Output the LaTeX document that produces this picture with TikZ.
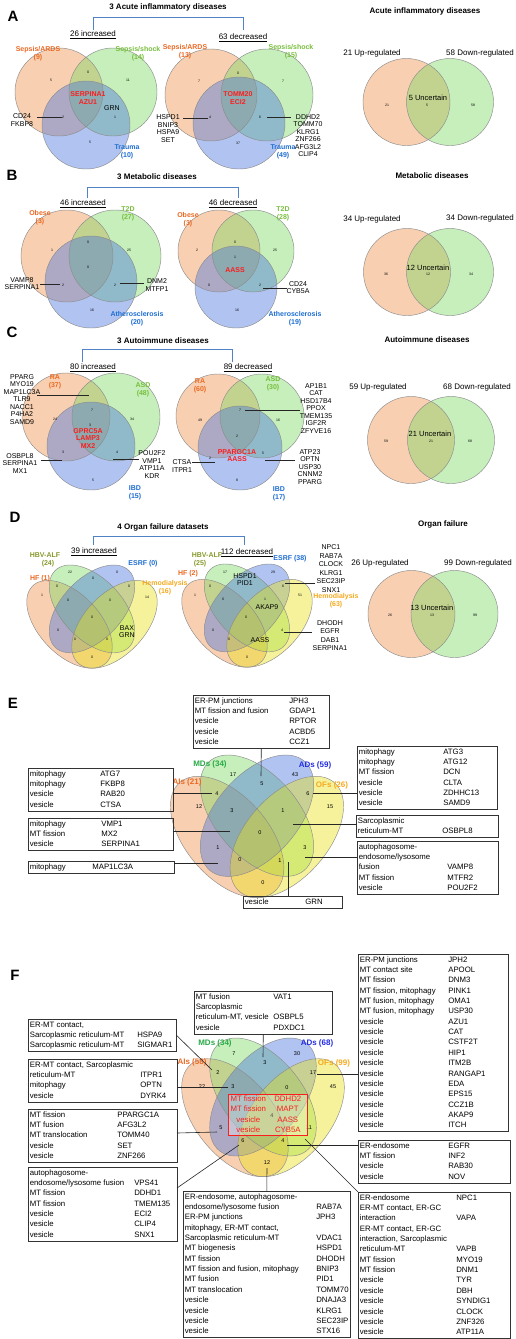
\documentclass[tikz,border=0pt]{standalone}
\usepackage{fontspec}
\setmainfont{Liberation Sans}
\usepackage{array}
\newcolumntype{L}[1]{>{\raggedright\arraybackslash}p{#1}}
\newcolumntype{C}[1]{>{\centering\arraybackslash}p{#1}}
\definecolor{vOr}{RGB}{240,145,70}
\definecolor{vGr}{RGB}{120,217,97}
\definecolor{vBl}{RGB}{70,115,222}
\definecolor{vYe}{RGB}{235,225,20}
\definecolor{tOr}{RGB}{235,105,35}
\definecolor{tGr}{RGB}{120,190,60}
\definecolor{tBl}{RGB}{30,110,210}
\definecolor{tHe}{RGB}{245,170,30}
\definecolor{tOl}{RGB}{135,155,45}
\definecolor{tRed}{RGB}{250,30,30}
\definecolor{brk}{RGB}{80,130,200}
\definecolor{eGr}{RGB}{40,170,70}
\definecolor{eBl}{RGB}{35,45,230}
\tikzset{
 vline/.style={draw=black!45, line width=0.45pt},
 num/.style={font=\fontsize{3.5}{4}\selectfont, inner sep=0pt},
 enum/.style={font=\fontsize{5.5}{6}\selectfont, inner sep=0pt},
 vlab/.style={font=\bfseries\fontsize{7}{8}\selectfont, inner sep=0pt, align=center},
 elab/.style={font=\bfseries\fontsize{8}{9}\selectfont, inner sep=0pt},
 glist/.style={font=\fontsize{7}{7.5}\selectfont, inner sep=0pt, align=center},
 redl/.style={font=\bfseries\fontsize{7}{7.6}\selectfont, text=tRed, inner sep=0pt, align=center},
 ttl/.style={font=\bfseries\fontsize{8}{9}\selectfont, inner sep=0pt},
 sub/.style={font=\fontsize{8}{9}\selectfont, inner sep=0pt},
 unc/.style={font=\fontsize{7.5}{8}\selectfont, inner sep=0pt},
 plet/.style={font=\bfseries\fontsize{15}{15}\selectfont, inner sep=0pt},
 conn/.style={draw=black!85, line width=0.6pt},
 brkl/.style={draw=brk, line width=0.8pt},
 gbox/.style={draw=black!80, line width=0.6pt, inner xsep=1.5pt, inner ysep=0.6pt, font=\fontsize{7.8}{10.35}\selectfont, anchor=north west},
}
\newcommand\gtab[3]{\begin{tabular}{@{}L{#1pt}@{}L{#2pt}@{}}#3\end{tabular}}
\newcommand\tvenn[5]{%
  \fill[vOr,fill opacity=.42] ({#1-#4},#2) circle (#3);
  \fill[vGr,fill opacity=.42] ({#1+#4},#2) circle (#3);
  \fill[vBl,fill opacity=.42] (#1,{#2+#5}) circle (#3);
  \draw[vline] ({#1-#4},#2) circle (#3);
  \draw[vline] ({#1+#4},#2) circle (#3);
  \draw[vline] (#1,{#2+#5}) circle (#3);
}
\newcommand\dvenn[5]{%
  \fill[vOr,fill opacity=.42] (#1,#3) circle (#4);
  \fill[vGr,fill opacity=.42] (#2,#3) circle (#4);
  \draw[vline] (#1,#3) circle (#4);
  \draw[vline] (#2,#3) circle (#4);
}
\newcommand\qvenn[4]{%
 \begin{scope}[shift={(#1,#2)},xscale=#3,yscale=#4]
  \fill[vOr,fill opacity=.42,rotate around={-45:(-0.15,0.385)}] (-0.15,0.385) ellipse [x radius=0.35,y radius=0.2];
  \fill[vGr,fill opacity=.42,rotate around={-45:(0,0.285)}] (0,0.285) ellipse [x radius=0.35,y radius=0.2];
  \fill[vBl,fill opacity=.42,rotate around={45:(0,0.285)}] (0,0.285) ellipse [x radius=0.35,y radius=0.2];
  \fill[vYe,fill opacity=.42,rotate around={45:(0.15,0.385)}] (0.15,0.385) ellipse [x radius=0.35,y radius=0.2];
  \draw[vline,rotate around={-45:(-0.15,0.385)}] (-0.15,0.385) ellipse [x radius=0.35,y radius=0.2];
  \draw[vline,rotate around={-45:(0,0.285)}] (0,0.285) ellipse [x radius=0.35,y radius=0.2];
  \draw[vline,rotate around={45:(0,0.285)}] (0,0.285) ellipse [x radius=0.35,y radius=0.2];
  \draw[vline,rotate around={45:(0.15,0.385)}] (0.15,0.385) ellipse [x radius=0.35,y radius=0.2];
 \end{scope}}
\begin{document}
\begin{tikzpicture}[x=1pt,y=-1pt]
\fill[white] (0,0) rectangle (515,1339);
\useasboundingbox (0,0) rectangle (515,1339);
%================ A
\node[plet] (pA) at (13,16) {A};
\node[ttl] (tA) at (168,7) {3 Acute inflammatory diseases};
\coordinate (bA1) at (93,30); \coordinate (bA2) at (243,30);
\draw[brkl] (bA1) -- ++(0,-13) -| (bA2);
\node[sub] (iA) at (93,35) {\underline{26 increased}};
\node[sub] (dA) at (243,38) {\underline{63 decreased}};
\tvenn{86}{92}{44}{27}{33}
\node[vlab,text=tOr] (aS1) at (38,54) {Sepsis/ARDS\\(9)};
\node[vlab,text=tGr] (aS2) at (138,54) {Sepsis/shock\\(14)};
\node[vlab,text=tBl] (aS3) at (127,152) {Trauma\\(10)};
\node[num] (an1) at (51,80) {5};
\node[num] (an2) at (88,72) {0};
\node[num] (an3) at (128,80) {11};
\node[num] (an4) at (63,117) {2};
\node[num] (an5) at (115,117) {1};
\node[num] (an6) at (90,142) {5};
\node[redl] (aR1) at (88,98) {SERPINA1\\AZU1};
\node[glist] (aG1) at (112,108) {GRN};
\node[glist] (aL1) at (22,120) {CD24\\FKBP8};
\coordinate (aL1a) at (37,117); \coordinate (aL1b) at (62,117);
\draw[conn] (aL1a) -- (aL1b);
\tvenn{239}{95}{46}{28}{28}
\node[vlab,text=tOr] (aS4) at (185,52) {Sepsis/ARDS\\(13)};
\node[vlab,text=tGr] (aS5) at (291,52) {Sepsis/shock\\(15)};
\node[vlab,text=tBl] (aS6) at (283,152) {Trauma\\(49)};
\node[num] (an7) at (199,81) {7};
\node[num] (an8) at (238,73) {0};
\node[num] (an9) at (283,81) {7};
\node[num] (an10) at (210,117) {4};
\node[num] (an11) at (260,117) {6};
\node[num] (an12) at (238,143) {37};
\node[redl] (aR2) at (238,98) {TOMM20\\ECI2};
\node[glist] (aL2) at (168,128.5) {HSPD1\\BNIP3\\HSPA9\\SET};
\coordinate (aL2a) at (183,118); \coordinate (aL2b) at (208,118);
\draw[conn] (aL2a) -- (aL2b);
\node[glist] (aL3) at (308,135.5) {DDHD2\\TOMM70\\KLRG1\\ZNF266\\AFG3L2\\CLIP4};
\coordinate (aL3a) at (267,117); \coordinate (aL3b) at (291,117);
\draw[conn] (aL3a) -- (aL3b);
% right A
\node[ttl] (tA2) at (425,11) {Acute inflammatory diseases};
\node[sub] (uA) at (372,53) {21 Up-regulated};
\node[sub] (wA) at (480,53) {58 Down-regulated};
\dvenn{406.5}{450}{102}{43.5}{}
\node[unc] (cA) at (428,98) {5 Uncertain};
\node[num] (rn1) at (387,105) {21};
\node[num] (rn2) at (427,105) {5};
\node[num] (rn3) at (473,105) {58};
%================ B
\node[plet] (pB) at (12,175) {B};
\node[ttl] (tB) at (157,177) {3 Metabolic diseases};
\coordinate (bB1) at (87,198); \coordinate (bB2) at (238,198);
\draw[brkl] (bB1) -- ++(0,-11) -| (bB2);
\node[sub] (iB) at (83,204) {\underline{46 increased}};
\node[sub] (dB) at (233,204) {\underline{46 decreased}};
\tvenn{91}{256}{46}{24}{26}
\node[vlab,text=tOr] (bS1) at (40,218) {Obese\\(3)};
\node[vlab,text=tGr] (bS2) at (128,214) {T2D\\(27)};
\node[vlab,text=tBl] (bS3) at (137,319) {Atherosclerosis\\(20)};
\node[num] (bn1) at (52,250) {1};
\node[num] (bn2) at (88,242) {0};
\node[num] (bn3) at (129,250) {25};
\node[num] (bn4) at (88,267) {0};
\node[num] (bn5) at (63,285) {2};
\node[num] (bn6) at (115,285) {2};
\node[num] (bn7) at (92,310) {16};
\node[glist] (bL1) at (22,283.5) {VAMP8\\SERPINA1};
\coordinate (bL1a) at (40,284); \coordinate (bL1b) at (60,284);
\draw[conn] (bL1a) -- (bL1b);
\node[glist] (bL2) at (157,285) {DNM2\\MTFP1};
\coordinate (bL2a) at (120,283); \coordinate (bL2b) at (144,283);
\draw[conn] (bL2a) -- (bL2b);
\tvenn{236}{251}{41}{17}{36}
\node[vlab,text=tOr] (bS4) at (188,220) {Obese\\(3)};
\node[vlab,text=tGr] (bS5) at (283,214) {T2D\\(28)};
\node[vlab,text=tBl] (bS6) at (295,319) {Atherosclerosis\\(19)};
\node[num] (bn8) at (197,250) {2};
\node[num] (bn9) at (235,242) {0};
\node[num] (bn10) at (275,250) {25};
\node[num] (bn11) at (235,257) {1};
\node[num] (bn12) at (209,285) {0};
\node[num] (bn13) at (260,285) {2};
\node[num] (bn14) at (237,310) {16};
\node[redl] (bR1) at (235,270) {AASS};
\node[glist] (bL3) at (298,287.5) {CD24\\CYB5A};
\coordinate (bL3a) at (263,288); \coordinate (bL3b) at (287,288);
\draw[conn] (bL3a) -- (bL3b);
\node[ttl] (tB2) at (432,176) {Metabolic diseases};
\node[sub] (uB) at (372,219) {34 Up-regulated};
\node[sub] (wB) at (480,218) {34 Down-regulated};
\dvenn{407}{450}{272}{43.5}{}
\node[unc] (cB) at (428,268) {12 Uncertain};
\node[num] (rn4) at (386,274) {36};
\node[num] (rn5) at (428,274) {12};
\node[num] (rn6) at (471,274) {34};
%================ C
\node[plet] (pC) at (12,332) {C};
\node[ttl] (tC) at (163,341) {3 Autoimmune diseases};
\coordinate (bC1) at (82,362); \coordinate (bC2) at (232,362);
\draw[brkl] (bC1) -- ++(0,-13) -| (bC2);
\node[sub] (iC) at (93,368) {\underline{80 increased}};
\node[sub] (dC) at (248,368) {\underline{89 decreased}};
\tvenn{91}{417}{44}{25}{29}
\node[vlab,text=tOr] (cS1) at (55,382) {RA\\(37)};
\node[vlab,text=tGr] (cS2) at (143,390) {ASD\\(48)};
\node[vlab,text=tBl] (cS3) at (135,493) {IBD\\(15)};
\node[num] (cn1) at (55,419) {24};
\node[num] (cn2) at (92,410) {7};
\node[num] (cn3) at (132,419) {34};
\node[num] (cn4) at (90,425) {3};
\node[num] (cn5) at (63,452) {3};
\node[num] (cn6) at (117,452) {4};
\node[num] (cn7) at (93,480) {5};
\node[redl] (cR1) at (88,438.5) {GPRC5A\\LAMP3\\MX2};
\node[glist] (cL1) at (22,399.5) {PPARG\\MYO19\\MAP1LC3A\\TLR9\\NACC1\\P4HA2\\SAMD9};
\coordinate (cL1a) at (37,395); \coordinate (cL1b) at (89,395);
\draw[conn] (cL1a) -- (cL1b);
\node[glist] (cL2) at (20,463.5) {OSBPL8\\SERPINA1\\MX1};
\coordinate (cL2a) at (41,460); \coordinate (cL2b) at (62,460);
\draw[conn] (cL2a) -- (cL2b);
\node[glist] (cL3) at (152,464.5) {POU2F2\\VMP1\\ATP11A\\KDR};
\coordinate (cL3a) at (113,459); \coordinate (cL3b) at (139,459);
\draw[conn] (cL3a) -- (cL3b);
\tvenn{240}{416}{42}{22}{32}
\node[vlab,text=tOr] (cS4) at (200,386) {RA\\(60)};
\node[vlab,text=tGr] (cS5) at (273,384) {ASD\\(30)};
\node[vlab,text=tBl] (cS6) at (279,494) {IBD\\(17)};
\node[num] (cn8) at (200,420) {49};
\node[num] (cn9) at (240,410) {7};
\node[num] (cn10) at (278,420) {16};
\node[num] (cn11) at (237,436) {2};
\node[num] (cn12) at (210,458) {2};
\node[num] (cn13) at (263,453) {5};
\node[num] (cn14) at (237,480) {8};
\node[redl] (cR2) at (237,455.5) {PPARGC1A\\AASS};
\node[glist] (cL4) at (316,408.5) {AP1B1\\CAT\\HSD17B4\\PPOX\\TMEM135\\IGF2R\\ZFYVE16};
\coordinate (cL4a) at (245,410); \coordinate (cL4b) at (300,410);
\draw[conn] (cL4a) -- (cL4b);
\node[glist] (cL5) at (182,466) {CTSA\\ITPR1};
\coordinate (cL5a) at (192,462); \coordinate (cL5b) at (215,462);
\draw[conn] (cL5a) -- (cL5b);
\node[glist] (cL6) at (310,467) {ATP23\\OPTN\\USP30\\CNNM2\\PPARG};
\coordinate (cL6a) at (265,460); \coordinate (cL6b) at (295,460);
\draw[conn] (cL6a) -- (cL6b);
\node[ttl] (tC2) at (427,340) {Autoimmune diseases};
\node[sub] (uC) at (378,387) {59 Up-regulated};
\node[sub] (wC) at (477,387) {68 Down-regulated};
\dvenn{411}{451}{440}{43.5}{}
\node[unc] (cC) at (430,434) {21 Uncertain};
\node[num] (rn7) at (386,441) {59};
\node[num] (rn8) at (431,441) {21};
\node[num] (rn9) at (470,441) {68};
%================ D
\node[plet] (pD) at (15,517) {D};
\node[ttl] (tD) at (163,527) {4 Organ failure datasets};
\coordinate (bD1) at (93,545); \coordinate (bD2) at (244,545);
\draw[brkl] (bD1) -- ++(0,-9) -| (bD2);
\node[sub] (iD) at (94,552) {\underline{39 increased}};
\node[sub] (dD) at (247,553) {\underline{112 decreased}};
\qvenn{92}{565}{150}{154}
\node[vlab,text=tOl] (dS1) at (45,555) {HBV-ALF};
\node[vlab,text=tOl] (dS1b) at (48,564) {(24)};
\node[vlab,text=tBl] (dS2) at (143,564) {ESRF (0)};
\node[vlab,text=tOr] (dS3) at (40,579) {HF (1)};
\node[vlab,text=tHe] (dS4) at (165,587.5) {Hemodialysis\\(16)};
\node[num] (dn1) at (70,572) {22};
\node[num] (dn2) at (117,572) {0};
\node[num] (dn3) at (93,578) {0};
\node[num] (dn4) at (57,586) {0};
\node[num] (dn5) at (129,586) {0};
\node[num] (dn6) at (42,595) {1};
\node[num] (dn7) at (147,597) {14};
\node[num] (dn8) at (68,600) {0};
\node[num] (dn9) at (110,600) {0};
\node[num] (dn10) at (92,617) {0};
\node[num] (dn11) at (58,630) {0};
\node[num] (dn12) at (75,639) {0};
\node[num] (dn13) at (107,639) {0};
\node[num] (dn14) at (92,657) {0};
\node[glist] (dG1) at (127,631.5) {BAX\\GRN};
\qvenn{247}{564}{150}{154}
\node[vlab,text=tOl] (dS5) at (207,555) {HBV-ALF};
\node[vlab,text=tOl] (dS5b) at (200,564) {(25)};
\node[vlab,text=tBl] (dS6) at (290,559) {ESRF (38)};
\node[vlab,text=tOr] (dS7) at (188,574) {HF (2)};
\node[vlab,text=tHe] (dS8) at (336,601) {Hemodialysis\\(63)};
\node[num] (dn15) at (225,572) {17};
\node[num] (dn16) at (273,572) {29};
\node[num] (dn17) at (210,586) {0};
\node[num] (dn18) at (283,586) {6};
\node[num] (dn19) at (195,595) {1};
\node[num] (dn20) at (300,595) {51};
\node[num] (dn21) at (223,599) {0};
\node[num] (dn22) at (265,599) {1};
\node[num] (dn23) at (246,617) {0};
\node[num] (dn24) at (213,630) {0};
\node[num] (dn25) at (282,630) {4};
\node[num] (dn26) at (229,639) {0};
\node[num] (dn27) at (247,657) {0};
\node[glist] (dG2) at (245,579.5) {HSPD1\\PID1};
\node[glist] (dG3) at (267,607) {AKAP9};
\node[glist] (dG4) at (260,640) {AASS};
\node[glist,font=\fontsize{7}{8.6}\selectfont] (dL1) at (331,568.5) {NPC1\\RAB7A\\CLOCK\\KLRG1\\SEC23IP\\SNX1};
\coordinate (dL1a) at (285,583); \coordinate (dL1b) at (315,583);
\draw[conn] (dL1a) -- (dL1b);
\node[glist,font=\fontsize{7}{8.4}\selectfont] (dL2) at (330,635.5) {DHODH\\EGFR\\DAB1\\SERPINA1};
\coordinate (dL2a) at (284,632); \coordinate (dL2b) at (312,632);
\draw[conn] (dL2a) -- (dL2b);
\node[ttl] (tD2) at (443,524) {Organ failure};
\node[sub] (uD) at (380,563) {26 Up-regulated};
\node[sub] (wD) at (478,563) {99 Down-regulated};
\dvenn{411.5}{454.5}{614}{43.5}{}
\node[unc] (cD) at (432,608) {13 Uncertain};
\node[num] (rn10) at (390,615) {26};
\node[num] (rn11) at (432,615) {13};
\node[num] (rn12) at (475,615) {99};
%================ E
\node[plet] (pE) at (13,703) {E};
\qvenn{257}{755}{199}{213}
\node[elab,text=eGr] (eS1) at (210,764) {MDs (34)};
\node[elab,text=eBl] (eS2) at (315,765) {ADs (59)};
\node[elab,text=tOr] (eS3) at (187,782) {AIs (21)};
\node[elab,text=tHe] (eS4) at (332,785) {OFs (26)};
\node[enum] (en1) at (233,775) {17};
\node[enum] (en2) at (295,775) {43};
\node[enum] (en3) at (262,784) {5};
\node[enum] (en4) at (217,794) {4};
\node[enum] (en5) at (308,794) {6};
\node[enum] (en6) at (199,807) {12};
\node[enum] (en7) at (330,807) {15};
\node[enum] (en8) at (232,811) {3};
\node[enum] (en9) at (283,811) {1};
\node[enum] (en10) at (260,833) {0};
\node[enum] (en11) at (218,848) {1};
\node[enum] (en12) at (305,848) {3};
\node[enum] (en13) at (240,860) {0};
\node[enum] (en14) at (280,861) {1};
\node[enum] (en15) at (263,883) {0};
\node[gbox] (eTop) at (193,695) {\gtab{94.5}{38.5}{ER-PM junctions & JPH3\\MT fission and fusion & GDAP1\\vesicle & RPTOR\\vesicle & ACBD5\\vesicle & CCZ1}};
\node[gbox] (eL1) at (28,768) {\gtab{70.5}{71.5}{mitophagy & ATG7\\mitophagy & FKBP8\\vesicle & RAB20\\vesicle & CTSA}};
\node[gbox] (eL2) at (28,818) {\gtab{71.5}{70.5}{mitophagy & VMP1\\MT fission & MX2\\vesicle & SERPINA1}};
\node[gbox] (eL3) at (28,861) {\gtab{62.5}{80.5}{mitophagy & MAP1LC3A}};
\node[gbox] (eR1) at (357,746) {\gtab{84.5}{52.5}{mitophagy & ATG3\\mitophagy & ATG12\\MT fission & DCN\\vesicle & CLTA\\vesicle & ZDHHC13\\vesicle & SAMD9}};
\node[gbox] (eR2) at (356,815) {\gtab{84.5}{54.5}{Sarcoplasmic & \\reticulum-MT & OSBPL8}};
\node[gbox] (eR3) at (357,841) {\gtab{88.5}{49.5}{autophagosome- & \\endosome/lysosome & \\fusion & VAMP8\\MT fission & MTFR2\\vesicle & POU2F2}};
\node[gbox] (eB) at (243,896) {\gtab{60.5}{35.5}{vesicle & GRN}};
\coordinate (e5c) at (261,776);
\draw[conn] (eTop.south) -- (e5c);
\coordinate (e4s) at (173,793); \coordinate (e4c) at (212,793);
\draw[conn] (e4s) -- (e4c);
\coordinate (e3s) at (173,831); \coordinate (e3c) at (230,831);
\draw[conn] (e3s) -- (e3c);
\coordinate (e1s) at (174,863); \coordinate (e1c) at (218,863);
\draw[conn] (e1s) -- (e1c);
\coordinate (e6c) at (313,793); \coordinate (e6s) at (357,793);
\draw[conn] (e6c) -- (e6s);
\coordinate (e1bc) at (293,824); \coordinate (e1bs) at (356,824);
\draw[conn] (e1bc) -- (e1bs);
\coordinate (e3bc) at (305,857); \coordinate (e3bs) at (357,857);
\draw[conn] (e3bc) -- (e3bs);
\coordinate (egc) at (288,862); \coordinate (egs) at (288,896);
\draw[conn] (egs) -- (egc);
%================ F
\node[plet] (pF) at (15,975) {F};
\qvenn{263}{1038}{187}{207}
\node[elab,text=eGr] (fS1) at (215,1043) {MDs (34)};
\node[elab,text=eBl] (fS2) at (317,1043) {ADs (68)};
\node[elab,text=tOr] (fS3) at (192,1062) {AIs (58)};
\node[elab,text=tHe] (fS4) at (334,1063) {OFs (99)};
\node[enum] (fn1) at (234,1054) {7};
\node[enum] (fn2) at (297,1054) {30};
\node[enum] (fn3) at (265,1063) {3};
\node[enum] (fn4) at (218,1073) {2};
\node[enum] (fn5) at (313,1073) {17};
\node[enum] (fn6) at (202,1087) {22};
\node[enum] (fn7) at (233,1087) {3};
\node[enum] (fn8) at (287,1088) {0};
\node[enum] (fn9) at (333,1087) {45};
\node[enum] (fn10) at (272,1116) {4};
\node[enum] (fn11) at (221,1128) {5};
\node[enum] (fn12) at (309,1128) {11};
\node[enum] (fn13) at (243,1141) {6};
\node[enum] (fn14) at (283,1141) {4};
\node[enum] (fn15) at (267,1163) {12};
\node[draw=tRed, line width=0.6pt, fill=white, fill opacity=0.3, text opacity=1, inner sep=0pt, anchor=north west, font=\fontsize{7.8}{10.35}\selectfont, text=tRed] (fRed) at (228,1094) {\begin{tabular}{@{}C{40pt}@{}C{39pt}@{}}MT fission & DDHD2\\MT fission & MAPT\\vesicle & AASS\\vesicle & CYB5A\end{tabular}};
\node[gbox] (fTop) at (194,991) {\gtab{77.5}{57.5}{MT fusion & VAT1\\Sarcoplasmic & \\reticulum-MT, vesicle & OSBPL5\\vesicle & PDXDC1}};
\node[gbox] (fL1) at (28,1019) {\gtab{107.5}{37.5}{ER-MT contact, & \\Sarcoplasmic reticulum-MT & HSPA9\\Sarcoplasmic reticulum-MT & SIGMAR1}};
\node[gbox] (fL2) at (28,1059) {\gtab{110.5}{35.5}{ER-MT contact, Sarcoplasmic & \\reticulum-MT & ITPR1\\mitophagy & OPTN\\vesicle & DYRK4}};
\node[gbox] (fL3) at (28,1109) {\gtab{87.5}{58.5}{MT fission & PPARGC1A\\MT fusion & AFG3L2\\MT translocation & TOMM40\\vesicle & SET\\vesicle & ZNF266}};
\node[gbox] (fL4) at (28,1167) {\gtab{104.5}{41.5}{autophagosome- & \\endosome/lysosome fusion & VPS41\\MT fission & DDHD1\\MT fission & TMEM135\\vesicle & ECI2\\vesicle & CLIP4\\vesicle & SNX1}};
\node[gbox] (fB) at (183,1191) {\gtab{131.5}{32.5}{ER-endosome, autophagosome- & \\endosome/lysosome fusion & RAB7A\\ER-PM junctions & JPH3\\mitophagy, ER-MT contact, & \\Sarcoplasmic reticulum-MT & VDAC1\\MT biogenesis & HSPD1\\MT fission & DHODH\\MT fission and fusion, mitophagy & BNIP3\\MT fusion & PID1\\MT translocation & TOMM70\\vesicle & DNAJA3\\vesicle & KLRG1\\vesicle & SEC23IP\\vesicle & STX16}};
\node[gbox] (fR1) at (358,954) {\gtab{88.5}{58.5}{ER-PM junctions & JPH2\\MT contact site & APOOL\\MT fission & DNM3\\MT fission, mitophagy & PINK1\\MT fusion, mitophagy & OMA1\\MT fusion, mitophagy & USP30\\vesicle & AZU1\\vesicle & CAT\\vesicle & CSTF2T\\vesicle & HIP1\\vesicle & ITM2B\\vesicle & RANGAP1\\vesicle & EDA\\vesicle & EPS15\\vesicle & CCZ1B\\vesicle & AKAP9\\vesicle & ITCH}};
\node[gbox] (fR2) at (358,1140) {\gtab{88.5}{60.5}{ER-endosome & EGFR\\MT fission & INF2\\vesicle & RAB30\\vesicle & NOV}};
\node[gbox] (fR3) at (358,1192) {\gtab{96.5}{52.5}{ER-endosome & NPC1\\ER-MT contact, ER-GC & \\interaction & VAPA\\ER-MT contact, ER-GC & \\interaction, Sarcoplasmic & \\reticulum-MT & VAPB\\MT fission & MYO19\\MT fission & DNM1\\vesicle & TYR\\vesicle & DBH\\vesicle & SYNDIG1\\vesicle & CLOCK\\vesicle & ZNF326\\vesicle & ATP11A}};
\coordinate (f3c) at (263,1057);
\draw[conn] (fTop.south) -- (f3c);
\coordinate (f2c) at (212,1070);
\draw[conn] (fL1.east) -- (f2c);
\coordinate (f3bs) at (177,1087); \coordinate (f3bc) at (228,1087);
\draw[conn] (f3bs) -- (f3bc);
\coordinate (f5s) at (177,1133); \coordinate (f5c) at (217,1132);
\draw[conn] (f5s) -- (f5c);
\coordinate (f6s) at (177,1188); \coordinate (f6c) at (239,1145);
\draw[conn] (f6s) -- (f6c);
\coordinate (f12c) at (267,1168);
\draw[conn] (fB.north) -- (f12c);
\coordinate (f17c) at (317,1074); \coordinate (f17s) at (358,1074);
\draw[conn] (f17c) -- (f17s);
\coordinate (f4c) at (287,1145); \coordinate (f4s) at (358,1145);
\draw[conn] (f4c) -- (f4s);
\coordinate (f11c) at (305,1139);
\draw[conn] (f11c) -- (fR3.north west);
\end{tikzpicture}
\end{document}
